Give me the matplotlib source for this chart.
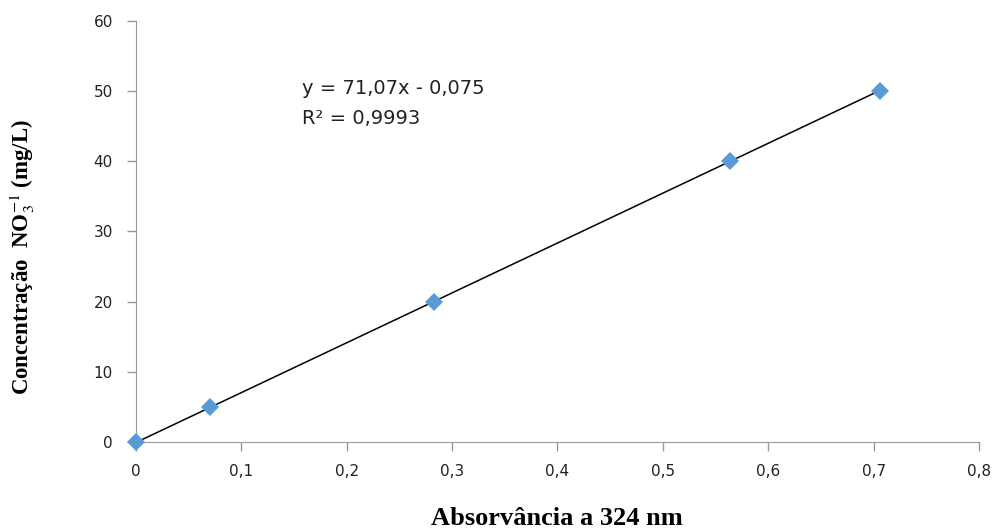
import matplotlib

matplotlib.use("Agg")
import matplotlib.pyplot as plt
import numpy as np

plt.rcParams["mathtext.fontset"] = "stix"

# calibration points
absorbance = [0.0, 0.07, 0.283, 0.564, 0.706]
concentration = [0, 5, 20, 40, 50]

x_ticks = [0, 0.1, 0.2, 0.3, 0.4, 0.5, 0.6, 0.7, 0.8]
x_tick_labels = ["0", "0,1", "0,2", "0,3", "0,4", "0,5", "0,6", "0,7", "0,8"]
y_ticks = [0, 10, 20, 30, 40, 50, 60]

slope, intercept = 71.07, -0.075

fig = plt.figure(figsize=(9.99, 5.31), dpi=100)
ax = fig.add_axes([0.136, 0.1676, 0.844, 0.7929])

xs = np.array([min(absorbance), max(absorbance)])
ax.plot(xs, slope * xs + intercept, color="black", lw=1.1, zorder=2)
ax.plot(absorbance, concentration, "D", color="#5B9BD5", markersize=9,
        markeredgewidth=0, zorder=3, clip_on=False)

ax.set_xlim(0, 0.8)
ax.set_ylim(0, 60)
ax.set_xticks(x_ticks)
ax.set_xticklabels(x_tick_labels)
ax.set_yticks(y_ticks)

for lab in ax.get_xticklabels() + ax.get_yticklabels():
    lab.set_fontfamily("DejaVu Sans")
    lab.set_fontsize(11)
    lab.set_color("#222222")
ax.tick_params(axis="both", direction="out", length=6.5, color="#999999", width=1)
ax.tick_params(axis="x", pad=9)
ax.tick_params(axis="y", pad=10)

for side in ("top", "right"):
    ax.spines[side].set_visible(False)
for side in ("left", "bottom"):
    ax.spines[side].set_color("#999999")

# trendline equation as Excel prints it
fig.text(302 / 999, 1 - 88 / 531, "y = 71,07x - 0,075", fontfamily="DejaVu Sans",
         fontsize=14, va="center", ha="left", color="#222222")
fig.text(302 / 999, 1 - 118 / 531, "R² = 0,9993", fontfamily="DejaVu Sans",
         fontsize=14, va="center", ha="left", color="#222222")

fig.text(557 / 999, 1 - 525 / 531, "Absorvância a 324 nm", fontfamily="Liberation Serif",
         fontweight="bold", fontsize=19, ha="center", va="baseline")
fig.text(22 / 999, 1 - 257 / 531, r"Concentração  NO$_3^{-1}$ (mg/L)",
         fontfamily="Liberation Serif", fontweight="bold", fontsize=16.5,
         rotation=90, ha="center", va="center")

fig.savefig("out.png", dpi=100)
